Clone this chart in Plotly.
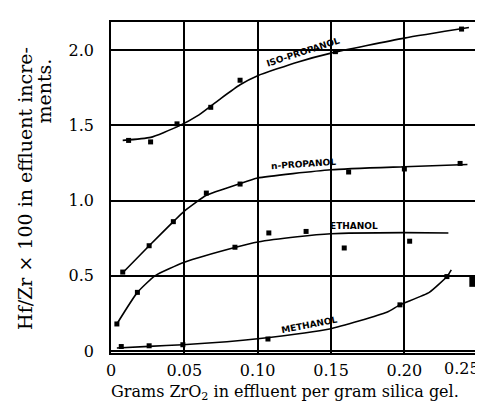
import plotly.graph_objects as go

# ---- data ----
iso_pts_x = [0.012, 0.027, 0.045, 0.068, 0.088, 0.153, 0.239]
iso_pts_y = [1.40, 1.39, 1.51, 1.62, 1.80, 1.99, 2.14]
iso_curve_x = [0.008, 0.027, 0.045, 0.060, 0.075, 0.088, 0.100, 0.127, 0.150, 0.200, 0.244]
iso_curve_y = [1.40, 1.42, 1.49, 1.57, 1.68, 1.77, 1.83, 1.92, 1.98, 2.08, 2.15]

nprop_pts_x = [0.008, 0.026, 0.0425, 0.065, 0.088, 0.162, 0.200, 0.238]
nprop_pts_y = [0.525, 0.70, 0.86, 1.05, 1.11, 1.19, 1.21, 1.247]
nprop_curve_x = [0.008, 0.026, 0.0425, 0.050, 0.065, 0.087, 0.100, 0.150, 0.200, 0.243]
nprop_curve_y = [0.52, 0.70, 0.86, 0.93, 1.035, 1.11, 1.15, 1.205, 1.225, 1.24]

eth_pts_x = [0.004, 0.018, 0.0845, 0.1076, 0.133, 0.159, 0.2036]
eth_pts_y = [0.18, 0.39, 0.69, 0.785, 0.795, 0.685, 0.73]
eth_curve_x = [0.004, 0.018, 0.030, 0.050, 0.085, 0.100, 0.127, 0.150, 0.200, 0.230]
eth_curve_y = [0.18, 0.39, 0.50, 0.59, 0.69, 0.725, 0.76, 0.78, 0.787, 0.785]

meth_pts_x = [0.007, 0.026, 0.049, 0.107, 0.197, 0.229]
meth_pts_y = [0.03, 0.035, 0.042, 0.08, 0.307, 0.495]
meth_curve_x = [0.004, 0.026, 0.049, 0.079, 0.100, 0.149, 0.188, 0.197, 0.217, 0.229, 0.232]
meth_curve_y = [0.02, 0.031, 0.042, 0.062, 0.082, 0.147, 0.258, 0.307, 0.39, 0.495, 0.54]

blob_x = [0.2477]
blob_y = [0.46]

x_ticks = [0, 0.05, 0.10, 0.15, 0.20, 0.25]
x_tick_labels = ["0", "0.05", "0.10", "0.15", "0.20", "0.25"]
y_ticks = [0, 0.5, 1.0, 1.5, 2.0]
y_tick_labels = ["0", "0.5", "1.0", "1.5", "2.0"]

curve_labels = ["ISO-PROPANOL", "n-PROPANOL", "ETHANOL", "METHANOL"]
label_x = [0.131, 0.1315, 0.166, 0.135]
label_y = [1.985, 1.245, 0.83, 0.17]
label_angle = [-18, -4, 0, -11]

# ---- figure ----
fig = go.Figure()
for cx, cy, px, py in [
    (iso_curve_x, iso_curve_y, iso_pts_x, iso_pts_y),
    (nprop_curve_x, nprop_curve_y, nprop_pts_x, nprop_pts_y),
    (eth_curve_x, eth_curve_y, eth_pts_x, eth_pts_y),
    (meth_curve_x, meth_curve_y, meth_pts_x, meth_pts_y),
]:
    fig.add_trace(go.Scatter(x=cx, y=cy, mode="lines",
                             line=dict(color="black", width=1.6, shape="spline", smoothing=0.5),
                             hoverinfo="skip", showlegend=False))
    fig.add_trace(go.Scatter(x=px, y=py, mode="markers",
                             marker=dict(symbol="square", size=5, color="black"),
                             showlegend=False))

fig.add_trace(go.Scatter(x=blob_x, y=blob_y, mode="markers",
                         marker=dict(symbol="square", size=10, color="black"),
                         showlegend=False, cliponaxis=False))

for t, x, y, a in zip(curve_labels, label_x, label_y, label_angle):
    fig.add_annotation(x=x, y=y, text="<b>" + t + "</b>", showarrow=False, textangle=a,
                       xanchor="center", yanchor="middle",
                       font=dict(family="DejaVu Sans", size=9, color="black"))

tick_font = dict(family="DejaVu Serif", size=16, color="black")
axis_common = dict(showline=True, linecolor="black", linewidth=1.5, mirror=True,
                   showgrid=True, gridcolor="black", gridwidth=1.5,
                   zeroline=False, ticks="outside", tickcolor="rgba(0,0,0,0)",
                   tickfont=tick_font)

# last x tick label is drawn as an annotation (in data x) so that it stays inside the page
fig.update_xaxes(range=[0, 0.2502], tickvals=x_ticks[:-1], ticktext=x_tick_labels[:-1],
                 ticklen=2, **axis_common)
fig.add_annotation(xref="x", yref="paper", x=x_ticks[-1] - 0.0105, y=-0.012,
                   xanchor="center", yanchor="top", text=x_tick_labels[-1],
                   showarrow=False, font=tick_font)
fig.update_yaxes(range=[-0.013, 2.187], tickvals=y_ticks, ticktext=y_tick_labels,
                 ticklen=12, **axis_common)

fig.add_annotation(xref="paper", yref="paper", x=0.473, y=-0.118,
                   xanchor="center", yanchor="middle",
                   text="Grams ZrO<sub>2</sub> in effluent per gram silica gel.",
                   showarrow=False, font=dict(family="DejaVu Serif", size=16, color="black"))
fig.add_annotation(xref="paper", yref="paper", x=-0.235, y=0.498,
                   xanchor="center", yanchor="middle",
                   text="Hf/Zr × 100 in effluent incre-", textangle=-90,
                   showarrow=False, font=dict(family="DejaVu Serif", size=19, color="black"))
fig.add_annotation(xref="paper", yref="paper", x=-0.185, y=0.79,
                   xanchor="center", yanchor="middle",
                   text="ments.", textangle=-90,
                   showarrow=False, font=dict(family="DejaVu Serif", size=19, color="black"))

fig.update_layout(width=483, height=402, margin=dict(l=103, r=11, t=14, b=57),
                  plot_bgcolor="white", paper_bgcolor="white")

fig.write_html("out.html")
